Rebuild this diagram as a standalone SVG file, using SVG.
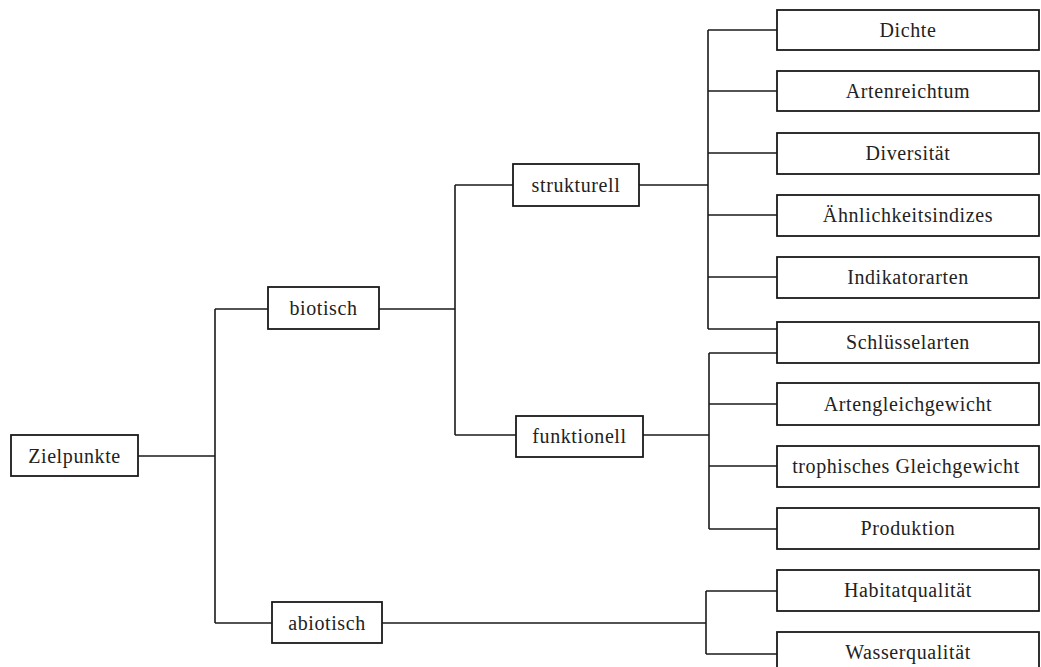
<svg xmlns="http://www.w3.org/2000/svg" width="1041" height="667" viewBox="0 0 1041 667">
<style>
rect.box{fill:#fff;stroke:#1a1a1a;stroke-width:1.8}
.c path,.c line{fill:none;stroke:#1a1a1a;stroke-width:1.6}
text{font-family:"Liberation Serif","Times New Roman",serif;font-size:20px;letter-spacing:0.6px;fill:#222;text-anchor:middle}
</style>
<rect width="1041" height="667" fill="#fff"/>
<g class="c" id="connectors">
<line x1="138" y1="456" x2="215" y2="456"/>
<line x1="215" y1="309" x2="215" y2="623"/>
<line x1="215" y1="309" x2="268" y2="309"/>
<line x1="215" y1="623" x2="272" y2="623"/>
<line x1="379" y1="309" x2="455" y2="309"/>
<line x1="455" y1="185" x2="455" y2="435"/>
<line x1="455" y1="185" x2="513" y2="185"/>
<line x1="455" y1="435" x2="516" y2="435"/>
<line x1="639" y1="185" x2="708" y2="185"/>
<line x1="708" y1="30" x2="708" y2="329"/>
<line x1="708" y1="30" x2="777" y2="30"/>
<line x1="708" y1="91" x2="777" y2="91"/>
<line x1="708" y1="153" x2="777" y2="153"/>
<line x1="708" y1="215" x2="777" y2="215"/>
<line x1="708" y1="277" x2="777" y2="277"/>
<line x1="708" y1="329" x2="777" y2="329"/>
<line x1="643" y1="435" x2="709" y2="435"/>
<line x1="709" y1="353" x2="709" y2="529"/>
<line x1="709" y1="353" x2="777" y2="353"/>
<line x1="709" y1="404" x2="777" y2="404"/>
<line x1="709" y1="466" x2="777" y2="466"/>
<line x1="709" y1="529" x2="777" y2="529"/>
<line x1="382" y1="623" x2="706" y2="623"/>
<line x1="706" y1="591" x2="706" y2="654"/>
<line x1="706" y1="591" x2="777" y2="591"/>
<line x1="706" y1="654" x2="777" y2="654"/>
</g>
<g id="zielpunkte"><rect class="box" x="11" y="435" width="127" height="41"/><text x="74.5" y="463">Zielpunkte</text></g>
<g id="biotisch"><rect class="box" x="268" y="287" width="111" height="42"/><text x="323.5" y="315">biotisch</text></g>
<g id="abiotisch"><rect class="box" x="272" y="602" width="110" height="41"/><text x="327" y="630">abiotisch</text></g>
<g id="strukturell"><rect class="box" x="513" y="164" width="126" height="42"/><text x="576" y="192">strukturell</text></g>
<g id="funktionell"><rect class="box" x="516" y="416" width="127" height="41"/><text x="579.5" y="443">funktionell</text></g>
<g id="dichte"><rect class="box" x="777" y="10" width="262" height="40"/><text x="908" y="37">Dichte</text></g>
<g id="artenreichtum"><rect class="box" x="777" y="71" width="262" height="40"/><text x="908" y="98">Artenreichtum</text></g>
<g id="diversitaet"><rect class="box" x="777" y="133" width="262" height="41"/><text x="908" y="160">Diversität</text></g>
<g id="aehnlichkeitsindizes"><rect class="box" x="777" y="195" width="262" height="41"/><text x="908" y="222">Ähnlichkeitsindizes</text></g>
<g id="indikatorarten"><rect class="box" x="777" y="257" width="262" height="41"/><text x="908" y="284">Indikatorarten</text></g>
<g id="schluesselarten"><rect class="box" x="777" y="322" width="262" height="41"/><text x="908" y="349">Schlüsselarten</text></g>
<g id="artengleichgewicht"><rect class="box" x="777" y="383" width="262" height="42"/><text x="908" y="411">Artengleichgewicht</text></g>
<g id="trophisches-gleichgewicht"><rect class="box" x="777" y="446" width="262" height="41"/><text x="906" y="473">trophisches Gleichgewicht</text></g>
<g id="produktion"><rect class="box" x="777" y="508" width="262" height="41"/><text x="908" y="535">Produktion</text></g>
<g id="habitatqualitaet"><rect class="box" x="777" y="570" width="262" height="41"/><text x="908" y="597">Habitatqualität</text></g>
<g id="wasserqualitaet"><rect class="box" x="777" y="632" width="262" height="44"/><text x="908" y="659">Wasserqualität</text></g>
</svg>
